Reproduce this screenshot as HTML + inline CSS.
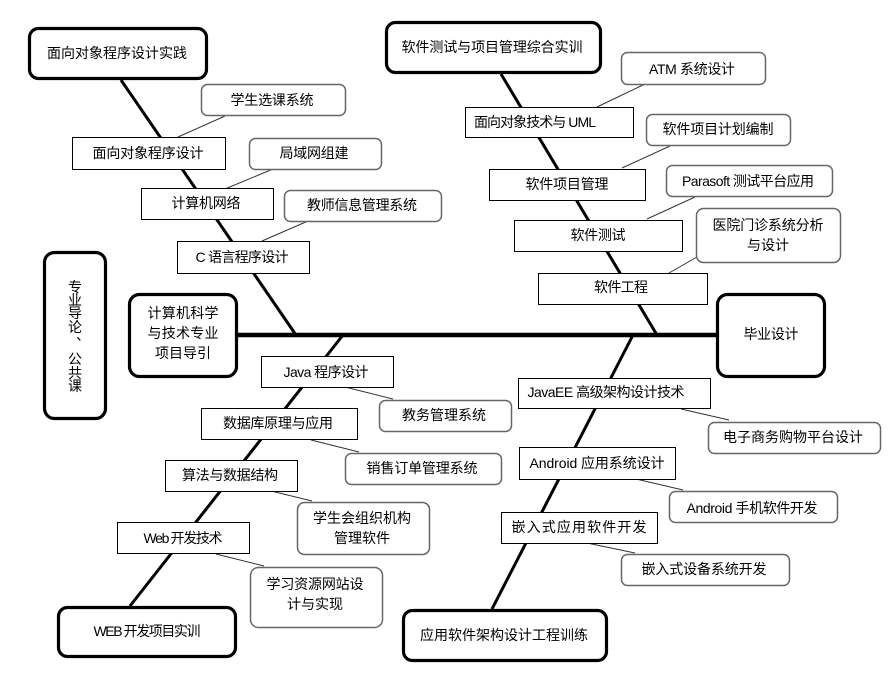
<!DOCTYPE html>
<html><head><meta charset="utf-8"><style>
html,body{margin:0;padding:0;background:#fff;}
svg{display:block;}
text{font-family:"Liberation Sans","Noto Sans CJK SC",sans-serif;font-size:14px;fill:#000;text-anchor:middle;dominant-baseline:central;}
.tk{fill:#fff;stroke:#000;stroke-width:3.2;}
.bx{fill:#fff;stroke:#000;stroke-width:1;}
.gr{fill:#fff;stroke:#666;stroke-width:1.5;}
.sp{stroke:#000;stroke-width:3;fill:none;}
.cn{stroke:#333;stroke-width:1;fill:none;}
</style></head><body>
<svg width="895" height="686" viewBox="0 0 895 686" xmlns="http://www.w3.org/2000/svg">
<rect width="895" height="686" fill="#fff"/>
<!-- spines -->
<line class="sp" x1="121" y1="80" x2="296" y2="335"/>
<line class="sp" x1="501" y1="74" x2="657" y2="335"/>
<line class="sp" x1="343" y1="335" x2="130" y2="606"/>
<line class="sp" x1="633" y1="335" x2="492" y2="609"/>
<line x1="237" y1="335" x2="716" y2="335" stroke="#000" stroke-width="4.5"/>
<!-- connectors -->
<line class="cn" x1="225" y1="116" x2="178" y2="137"/>
<line class="cn" x1="273" y1="169" x2="225" y2="189"/>
<line class="cn" x1="308" y1="221" x2="262" y2="241"/>
<line class="cn" x1="645" y1="84" x2="597" y2="107"/>
<line class="cn" x1="670" y1="146" x2="622" y2="168"/>
<line class="cn" x1="695" y1="197" x2="647" y2="219"/>
<line class="cn" x1="697" y1="257" x2="669" y2="273"/>
<line class="cn" x1="345" y1="387" x2="393" y2="399"/>
<line class="cn" x1="311" y1="440" x2="359" y2="452"/>
<line class="cn" x1="263" y1="489" x2="312" y2="501"/>
<line class="cn" x1="216" y1="554" x2="264" y2="566"/>
<line class="cn" x1="681" y1="409" x2="729" y2="420"/>
<line class="cn" x1="636" y1="479" x2="683" y2="490"/>
<line class="cn" x1="587" y1="543" x2="635" y2="553"/>

<!-- thick boxes -->
<rect class="tk" x="29.5" y="28.5" width="177" height="50" rx="9"/>
<text x="117" y="53" textLength="140">面向对象程序设计实践</text>
<rect class="tk" x="386.5" y="22.5" width="214" height="50" rx="9"/>
<text x="492" y="47" textLength="181">软件测试与项目管理综合实训</text>
<rect class="tk" x="44.5" y="252.5" width="61" height="166" rx="10"/>
<text x="75" y="287">专</text>
<text x="75" y="300">业</text>
<text x="75" y="313">导</text>
<text x="75" y="327">论</text>
<text x="83" y="335">、</text>
<text x="75" y="359">公</text>
<text x="75" y="373">共</text>
<text x="75" y="386">课</text>
<rect class="tk" x="129.5" y="294.5" width="107" height="82" rx="10"/>
<text x="183" y="313" textLength="71">计算机科学</text>
<text x="183" y="333" textLength="71">与技术专业</text>
<text x="183" y="353" textLength="56">项目导引</text>
<rect class="tk" x="717.5" y="294.5" width="107" height="82" rx="10"/>
<text x="771" y="334" textLength="55">毕业设计</text>
<rect class="tk" x="58.5" y="607.5" width="177" height="49" rx="9"/>
<text x="147" y="631" textLength="107">WEB 开发项目实训</text>
<rect class="tk" x="403.5" y="610.5" width="203" height="50" rx="9"/>
<text x="504" y="635" textLength="168">应用软件架构设计工程训练</text>

<!-- plain boxes -->
<rect class="bx" x="72.5" y="137.5" width="153" height="32"/>
<text x="148" y="153" textLength="111">面向对象程序设计</text>
<rect class="bx" x="141.5" y="188.5" width="132" height="31"/>
<text x="206" y="203" textLength="69">计算机网络</text>
<rect class="bx" x="177.5" y="241.5" width="132" height="32"/>
<text x="242" y="257" textLength="93">C 语言程序设计</text>
<rect class="bx" x="465.5" y="107.5" width="168" height="30"/>
<text x="535" y="122" textLength="122">面向对象技术与 UML</text>
<rect class="bx" x="489.5" y="169.5" width="156" height="31"/>
<text x="567" y="184" textLength="83">软件项目管理</text>
<rect class="bx" x="514.5" y="220.5" width="168" height="31"/>
<text x="598" y="235" textLength="55">软件测试</text>
<rect class="bx" x="538.5" y="273.5" width="169" height="31"/>
<text x="621" y="287" textLength="54">软件工程</text>
<rect class="bx" x="261.5" y="356.5" width="132" height="31"/>
<text x="326" y="372" textLength="85">Java 程序设计</text>
<rect class="bx" x="201.5" y="408.5" width="156" height="31"/>
<text x="278" y="423" textLength="110">数据库原理与应用</text>
<rect class="bx" x="165.5" y="460.5" width="132" height="31"/>
<text x="230" y="475" textLength="96">算法与数据结构</text>
<rect class="bx" x="117.5" y="522.5" width="132" height="31"/>
<text x="183" y="538" textLength="79">Web 开发技术</text>
<rect class="bx" x="518.5" y="378.5" width="192" height="30"/>
<text x="606" y="392" textLength="157">JavaEE 高级架构设计技术</text>
<rect class="bx" x="519.5" y="447.5" width="156" height="32"/>
<text x="597" y="463" textLength="135">Android 应用系统设计</text>
<rect class="bx" x="501.5" y="512.5" width="156" height="31"/>
<text x="579" y="527" textLength="135">嵌入式应用软件开发</text>

<!-- gray rounded boxes -->
<rect class="gr" x="201.5" y="84.5" width="144" height="31" rx="6"/>
<text x="272" y="100" textLength="83">学生选课系统</text>
<rect class="gr" x="249.5" y="138.5" width="132" height="31" rx="6"/>
<text x="314" y="153" textLength="69">局域网组建</text>
<rect class="gr" x="284.5" y="190.5" width="157" height="31" rx="6"/>
<text x="362" y="205" textLength="110">教师信息管理系统</text>
<rect class="gr" x="621.5" y="52.5" width="144" height="32" rx="6"/>
<text x="692" y="69" textLength="86">ATM 系统设计</text>
<rect class="gr" x="646.5" y="114.5" width="144" height="31" rx="6"/>
<text x="718" y="129" textLength="111">软件项目计划编制</text>
<rect class="gr" x="666.5" y="165.5" width="166" height="31" rx="6"/>
<text x="748" y="181" textLength="132">Parasoft 测试平台应用</text>
<rect class="gr" x="696.5" y="208.5" width="144" height="54" rx="7"/>
<text x="768" y="225" textLength="111">医院门诊系统分析</text>
<text x="768" y="245" textLength="42">与设计</text>
<rect class="gr" x="379.5" y="400.5" width="132" height="31" rx="6"/>
<text x="444" y="415" textLength="84">教务管理系统</text>
<rect class="gr" x="345.5" y="453.5" width="156" height="31" rx="6"/>
<text x="422" y="468" textLength="111">销售订单管理系统</text>
<rect class="gr" x="297.5" y="502.5" width="132" height="52" rx="7"/>
<text x="362" y="518" textLength="98">学生会组织机构</text>
<text x="362" y="538" textLength="56">管理软件</text>
<rect class="gr" x="250.5" y="567.5" width="132" height="60" rx="8"/>
<text x="315" y="584" textLength="97">学习资源网站设</text>
<text x="315" y="604" textLength="56">计与实现</text>
<rect class="gr" x="708.5" y="422.5" width="172" height="31" rx="6"/>
<text x="793" y="437" textLength="140">电子商务购物平台设计</text>
<rect class="gr" x="669.5" y="491.5" width="168" height="31" rx="6"/>
<text x="752" y="508" textLength="131">Android 手机软件开发</text>
<rect class="gr" x="621.5" y="554.5" width="168" height="31" rx="6"/>
<text x="704" y="569" textLength="125">嵌入式设备系统开发</text>
</svg>
</body></html>
